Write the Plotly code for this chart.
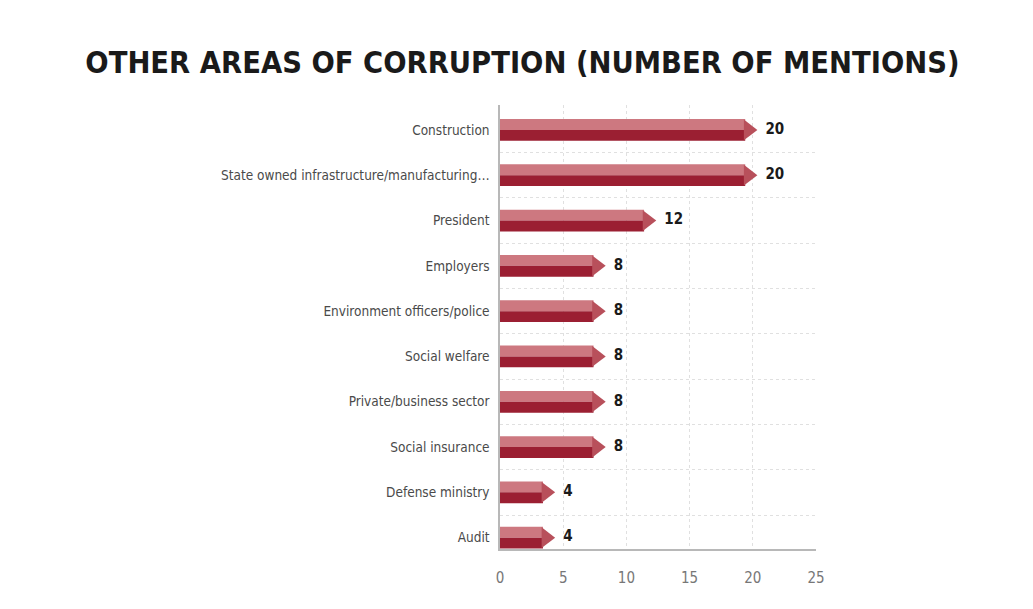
import plotly.graph_objects as go

categories = ["Construction", "State owned infrastructure/manufacturing…", "President",
              "Employers", "Environment officers/police", "Social welfare",
              "Private/business sector", "Social insurance", "Defense ministry", "Audit"]
values = [20, 20, 12, 8, 8, 8, 8, 8, 4, 4]
x_ticks = [0, 5, 10, 15, 20, 25]

FONT = "DejaVu Sans Condensed, Liberation Sans Narrow, Roboto, sans-serif"

n = len(categories)
pos = list(range(n))  # 0 at top after reversing axis
body = [v - 0.6 for v in values]

fig = go.Figure()
# lighter upper half
fig.add_trace(go.Bar(y=pos, x=body, orientation="h", width=0.24, offset=-0.24,
                     marker=dict(color="#cd7880", line=dict(width=0)), hoverinfo="skip"))
# darker lower half
fig.add_trace(go.Bar(y=pos, x=body, orientation="h", width=0.24, offset=0.0,
                     marker=dict(color="#9b1f32", line=dict(width=0)), hoverinfo="skip"))
# arrow tips
fig.add_trace(go.Scatter(y=pos, x=[v - 0.35 for v in values], mode="markers",
                         marker=dict(symbol="triangle-right", size=18, color="#b8505b",
                                     line=dict(width=0)), hoverinfo="skip"))
# value labels
fig.add_trace(go.Scatter(y=pos, x=[v + 1.0 for v in values], mode="text",
                         text=[str(v) for v in values], textposition="middle right",
                         textfont=dict(family=FONT, size=15, color="#1a1a1a",
                                       weight="bold"), hoverinfo="skip"))

fig.update_layout(
    barmode="overlay",
    width=1033, height=609,
    margin=dict(l=492, r=225, t=97, b=68),
    paper_bgcolor="white", plot_bgcolor="white",
    showlegend=False,
    title=dict(text="<b>OTHER AREAS OF CORRUPTION (NUMBER OF MENTIONS)</b>",
               x=0.498, xanchor="center", y=0.91, yanchor="middle",
               font=dict(family=FONT, size=30.5, color="#1a1a1a")),
)
fig.update_xaxes(range=[0, 25], tickvals=x_ticks, ticktext=[str(t) for t in x_ticks],
                 showgrid=True, gridcolor="#e0e0e0", griddash="dot", gridwidth=1,
                 showline=True, linecolor="#b8b8b8", linewidth=1.5, zeroline=False,
                 ticks="", ticklen=0, ticklabelstandoff=14,
                 tickfont=dict(family=FONT, size=15, color="#777777"))
fig.update_yaxes(range=[9.25, -0.55], tickvals=pos, ticktext=categories,
                 showgrid=False, zeroline=False,
                 showline=True, linecolor="#b8b8b8", linewidth=1.5,
                 ticks="", ticklabelstandoff=6,
                 tickfont=dict(family=FONT, size=13.5, color="#4a4a4a"),
                 minor=dict(tickvals=[p + 0.5 for p in pos[:-1]], showgrid=True,
                            gridcolor="#e0e0e0", griddash="dot", gridwidth=1, ticks=""))

fig.write_html("out.html")
